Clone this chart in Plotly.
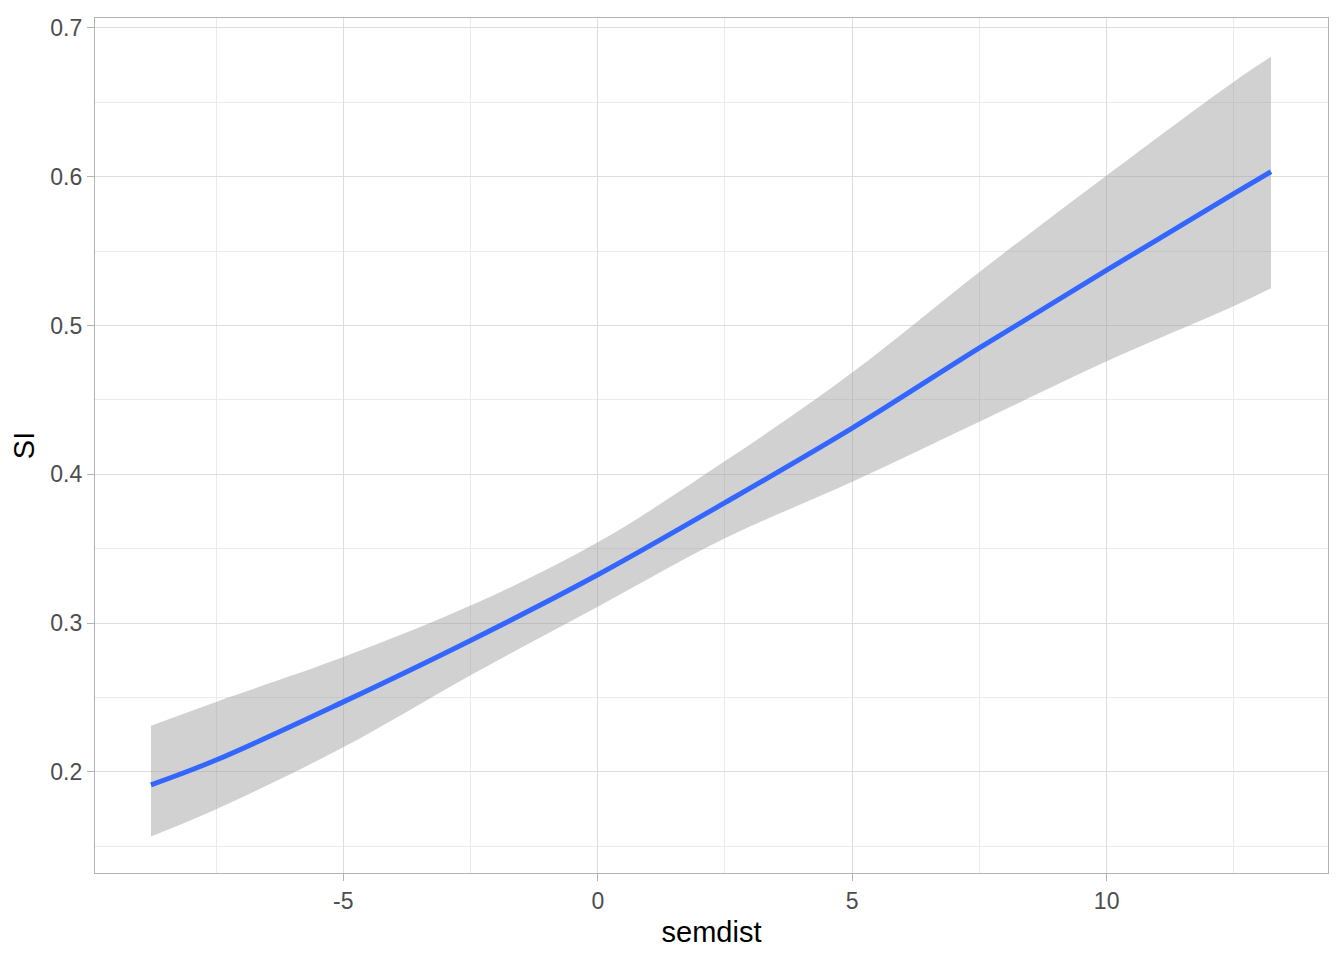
import plotly.graph_objects as go

# values
semdist = [-8.78, -7.5, -5, -2.5, 0, 2.5, 5, 7.5, 10, 12.5, 13.23]
si_fit = [0.1913, 0.2080, 0.2471, 0.2884, 0.3325, 0.3810, 0.4311, 0.4850, 0.5372, 0.5886, 0.6034]
si_upper = [0.2311, 0.2471, 0.2772, 0.3118, 0.3543, 0.4089, 0.4684, 0.5360, 0.6008, 0.6639, 0.6806]
si_lower = [0.1567, 0.1750, 0.2166, 0.2650, 0.3110, 0.3570, 0.3950, 0.4354, 0.4760, 0.5132, 0.5251]

x_tickvals = [-5, 0, 5, 10]
x_ticklabels = ["-5", "0", "5", "10"]

fig = go.Figure()

# confidence band
fig.add_trace(go.Scatter(x=semdist, y=si_lower, mode="lines",
                         line=dict(color="rgba(0,0,0,0)", shape="spline"),
                         showlegend=False, hoverinfo="skip"))
fig.add_trace(go.Scatter(x=semdist, y=si_upper, mode="lines",
                         line=dict(color="rgba(0,0,0,0)", shape="spline"),
                         fill="tonexty", fillcolor="rgba(153,153,153,0.45)",
                         showlegend=False, hoverinfo="skip"))
# fitted line
fig.add_trace(go.Scatter(x=semdist, y=si_fit, mode="lines",
                         line=dict(color="#3366FF", width=5, shape="spline"),
                         showlegend=False))

axis_common = dict(
    showline=True, mirror=True, linecolor="#B3B3B3", linewidth=1.3,
    ticks="outside", tickcolor="#B3B3B3", ticklen=7, tickwidth=1.3,
    gridcolor="#DEDEDE", gridwidth=1.3, zeroline=False,
    tickfont=dict(family="Liberation Sans", size=23, color="#4D4D4D"),
)

fig.update_xaxes(range=[-9.88, 14.35], tickmode="array", tickvals=x_tickvals, ticktext=x_ticklabels,
                 minor=dict(dtick=2.5, tick0=0, showgrid=True, gridcolor="#EBEBEB", gridwidth=1, ticks=""),
                 title=dict(text="semdist", font=dict(family="Liberation Sans", size=29, color="black"), standoff=8),
                 **axis_common)
fig.update_yaxes(range=[0.1321, 0.7067], tick0=0, dtick=0.1, tickformat=".1f",
                 minor=dict(dtick=0.05, tick0=0, showgrid=True, gridcolor="#EBEBEB", gridwidth=1, ticks=""),
                 title=dict(text="SI", font=dict(family="Liberation Sans", size=29, color="black"), standoff=12),
                 **axis_common)

# page body adds ~8px offset, so margins are shifted to match
fig.update_layout(width=1344, height=960,
                  margin=dict(l=87, r=24, t=7, b=95),
                  paper_bgcolor="white", plot_bgcolor="white",
                  showlegend=False)

fig.write_html("out.html")
